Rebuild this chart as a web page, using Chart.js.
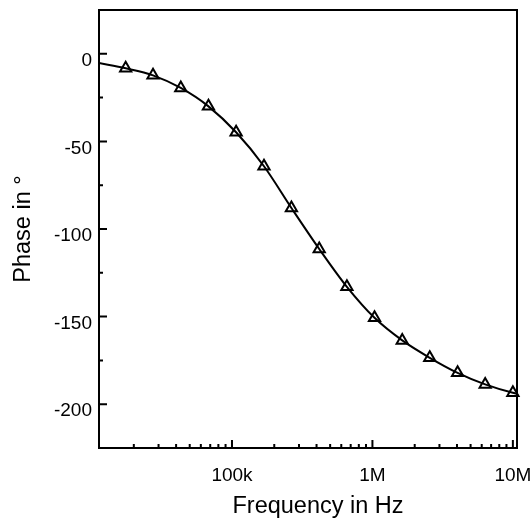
<!DOCTYPE html>
<html>
<head>
<meta charset="utf-8">
<script src="https://cdn.jsdelivr.net/npm/chart.js@4.4.1/dist/chart.umd.min.js"></script>
<style>
  body { margin: 0; background: #fff; }
  #wrap { width: 532px; height: 518px; }
</style>
</head>
<body>
<div id="wrap"><canvas id="phase"></canvas></div>
<script>
// values
const freqHz = [17500, 27400, 43200, 68000, 107000, 169000, 265000, 418000,
                658000, 1035000, 1630000, 2560000, 4040000, 6350000, 10000000];
const phaseDeg = [-8.3, -12.3, -19.5, -30, -44.8, -64.2, -88, -111.4,
                  -133, -150.7, -163.6, -173.5, -182.1, -188.7, -193.5];
// where the curve meets the frame
const edgeFreq = [11300, 10700000];
const edgePhase = [-5.3, -194];

const xTickVals = [1e5, 1e6, 1e7];
const xTickLabels = ['100k', '1M', '10M'];
const yTickVals = [-200, -150, -100, -50, 0];
const yMinorVals = [-175, -125, -75, -25];
const xTitle = 'Frequency in Hz';
const yTitle = 'Phase in °';

const FONT = 'Liberation Sans, Arial, sans-serif';

const toPts = (xs, ys) => xs.map((x, i) => ({x: x, y: ys[i]}));
const curve = [].concat(
    toPts([edgeFreq[0]], [edgePhase[0]]),
    toPts(freqHz, phaseDeg),
    toPts([edgeFreq[1]], [edgePhase[1]])
);

// minor log ticks 2..9 per decade
const xMinorVals = [];
for (let d = 1e4; d < 1e7; d *= 10) {
    for (let m = 2; m <= 9; m++) xMinorVals.push(m * d);
}

// frame, inward tick marks and the x title (sits a bit right of centre)
const frameTicks = {
    id: 'frameTicks',
    afterDraw(chart) {
        const {ctx, chartArea: a, scales: {x, y}} = chart;
        ctx.save();
        ctx.strokeStyle = '#000';
        ctx.lineWidth = 2;
        ctx.strokeRect(a.left, a.top, a.right - a.left, a.bottom - a.top);
        ctx.beginPath();
        yTickVals.forEach(v => {
            const py = y.getPixelForValue(v);
            ctx.moveTo(a.left, py); ctx.lineTo(a.left + 8, py);
        });
        yMinorVals.forEach(v => {
            const py = y.getPixelForValue(v);
            ctx.moveTo(a.left, py); ctx.lineTo(a.left + 4, py);
        });
        xTickVals.forEach(v => {
            const px = x.getPixelForValue(v);
            ctx.moveTo(px, a.bottom); ctx.lineTo(px, a.bottom - 8);
        });
        xMinorVals.forEach(v => {
            if (v < x.min || v > x.max) return;
            const px = x.getPixelForValue(v);
            ctx.moveTo(px, a.bottom); ctx.lineTo(px, a.bottom - 4);
        });
        ctx.stroke();

        ctx.fillStyle = '#000';
        ctx.font = '23.5px ' + FONT;
        ctx.textAlign = 'center';
        ctx.textBaseline = 'alphabetic';
        ctx.fillText(xTitle, (a.left + a.right) / 2 + 10, x.bottom - 5.5);
        ctx.restore();
    }
};

new Chart(document.getElementById('phase'), {
    type: 'line',
    data: {
        datasets: [{
            label: 'curve',
            data: curve,
            borderColor: '#000',
            borderWidth: 2,
            pointRadius: 0,
            cubicInterpolationMode: 'monotone',
            fill: false
        }, {
            label: 'points',
            data: toPts(freqHz, phaseDeg),
            showLine: false,
            pointStyle: 'triangle',
            pointRadius: 6.5,
            pointBorderWidth: 2,
            pointBorderColor: '#000',
            pointBackgroundColor: '#fff',
            clip: false
        }]
    },
    plugins: [frameTicks],
    options: {
        responsive: true,
        maintainAspectRatio: false,
        animation: false,
        layout: { padding: { top: 10, right: 15, left: 0, bottom: 0 } },
        plugins: { legend: { display: false }, tooltip: { enabled: false } },
        scales: {
            x: {
                type: 'logarithmic',
                min: 11300,
                max: 10700000,
                afterBuildTicks: s => { s.ticks = xTickVals.map(v => ({value: v})); },
                afterFit: s => { s.height = 70; s.paddingLeft = 0; s.paddingRight = 0; },
                grid: { display: false, drawTicks: false },
                border: { display: false },
                ticks: {
                    autoSkip: false,
                    maxRotation: 0,
                    padding: 16,
                    color: '#000',
                    font: { family: FONT, size: 19 },
                    callback: (v, i) => xTickLabels[i]
                },
                title: { display: false, text: xTitle }
            },
            y: {
                min: -225,
                max: 25,
                afterBuildTicks: s => { s.ticks = yTickVals.map(v => ({value: v})); },
                afterFit: s => { s.width = 99; s.paddingTop = 0; s.paddingBottom = 0; },
                grid: { display: false, drawTicks: false },
                border: { display: false },
                ticks: {
                    padding: 7,
                    labelOffset: 7,
                    color: '#000',
                    font: { family: FONT, size: 19 }
                },
                title: {
                    display: true,
                    text: yTitle,
                    color: '#000',
                    padding: { top: 12, bottom: 0 },
                    font: { family: FONT, size: 23.5, lineHeight: 1 }
                }
            }
        }
    }
});
</script>
</body>
</html>
